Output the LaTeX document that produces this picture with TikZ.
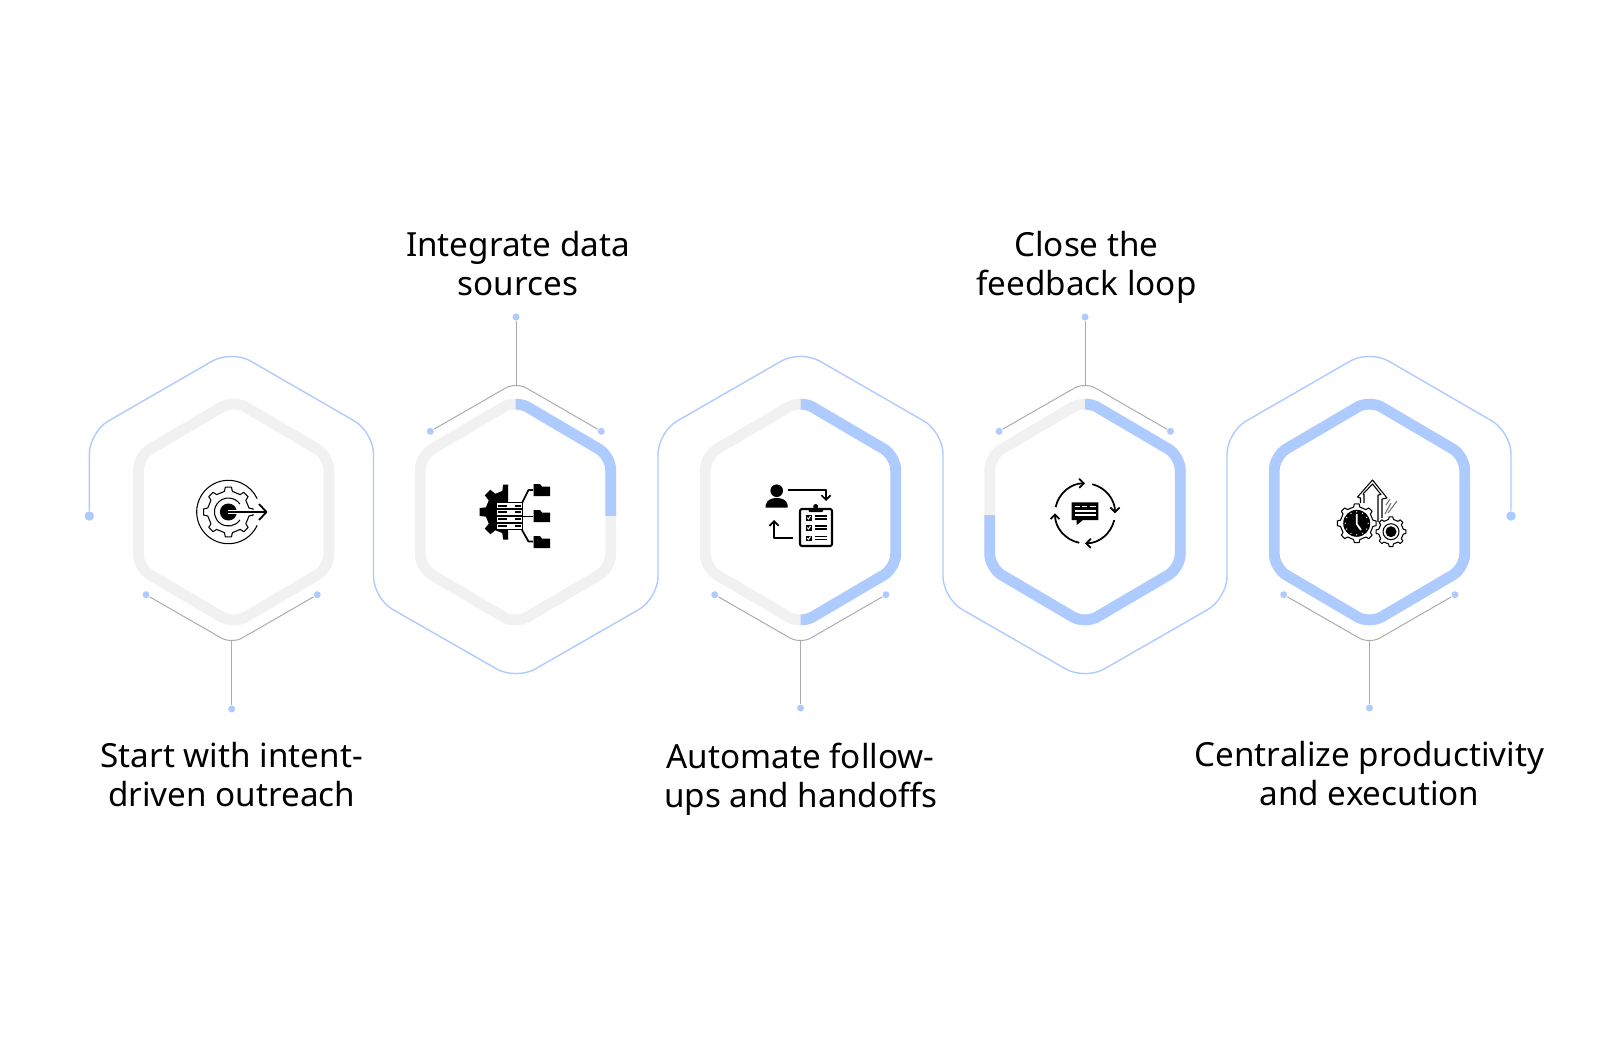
\documentclass[tikz,border=0pt]{standalone}
\usepackage{xcolor}
\usepackage{fontspec}
\setmainfont{Noto Sans}
\usetikzlibrary{arrows.meta, positioning}

\definecolor{hexblue}{HTML}{AECBFF}
\definecolor{hexgray}{HTML}{F1F1F1}
\definecolor{stemgray}{HTML}{ABABAB}

\begin{document}
\begin{tikzpicture}[
  x=0.01cm,
  y=-0.01cm,
  ring/.style={draw=hexgray, line width=3.1pt, rounded corners=0.14cm},
  ringblue/.style={draw=hexblue, line width=3.1pt, rounded corners=0.14cm},
  outline/.style={draw=hexblue, line width=0.4pt, rounded corners=0.22cm},
  stem/.style={draw=stemgray, line width=0.28pt},
  dot/.style={circle, fill=hexblue, inner sep=0pt, minimum size=0.07cm},
  bigdot/.style={circle, fill=hexblue, inner sep=0pt, minimum size=0.095cm},
  steptext/.style={align=center, inner sep=0pt, font=\fontsize{9.45}{11.2}\selectfont,
    execute at begin node=\strut, execute at end node=\strut},
  icon/.style={draw=black, line width=0.3pt, line join=round},
  iconthick/.style={draw=black, line width=0.5pt, line join=round},
  tips/.style={-{Straight Barb[length=1.3pt,width=2.6pt]}},
  pics/hexring/.style={code={
    \draw[#1] (0,-112) -- (95.25,-56) -- (95.25,56) -- (0,112) -- (-95.25,56) -- (-95.25,-56) -- cycle;
  }},
  pics/cog/.style args={#1/#2/#3}{code={
    \draw[#3] (-11:#1) \foreach \a in {0,45,...,315}{
      -- (\a-11:#1) -- (\a-7:#2) -- (\a+7:#2) -- (\a+11:#1)
    } -- cycle;
  }}
]
\useasboundingbox (0,0) rectangle (1600,1039);

% hexagon centres
\coordinate (c1) at (233.7,512);
\coordinate (c2) at (515.5,512);
\coordinate (c3) at (800.5,512);
\coordinate (c4) at (1085,512);
\coordinate (c5) at (1369.5,512);

% rings
\pic at (c1) {hexring=ring};
\pic at (c2) {hexring=ring};
\pic at (c3) {hexring=ring};
\pic at (c4) {hexring=ring};
\pic at (c5) {hexring=ringblue};

\begin{scope}
  \clip (c2) ++(0,-130) rectangle ++(130,133);
  \pic at (c2) {hexring=ringblue};
\end{scope}
\begin{scope}
  \clip (c3) ++(0,-130) rectangle ++(130,260);
  \pic at (c3) {hexring=ringblue};
\end{scope}
\begin{scope}
  \clip (c4) ++(0,-130) -- ++(130,0) -- ++(0,260) -- ++(-260,0) -- ++(0,-127) -- ++(130,0) -- cycle;
  \pic at (c4) {hexring=ringblue};
\end{scope}

% long blue line
\node[bigdot] (startdot) at (89.3,516) {};
\node[bigdot] (enddot) at (1511,516) {};
\draw[outline] (startdot) -- (89.3,432) -- (231.5,350) -- (373.5,432) -- (373.5,598.5)
  -- (516,680) -- (658,598.5) -- (658,432) -- (800.5,350) -- (943,432) -- (943,598.5)
  -- (1085,680) -- (1227,598.5) -- (1227,432) -- (1369.5,350) -- (1511,432) -- (enddot);

% stems
\node[dot] (dot1) at (231.7,709) {};
\node[dot] (dot1l) at (146,594.7) {};
\node[dot] (dot1r) at (317.3,594.7) {};
\coordinate (apex1) at (231.7,644);
\coordinate (tip1) at (231.7,640.5);
\node[dot] (dot2) at (516,317) {};
\node[dot] (dot2l) at (430.3,431.3) {};
\node[dot] (dot2r) at (601.3,431.3) {};
\coordinate (apex2) at (516,382);
\coordinate (tip2) at (516,385.5);
\node[dot] (dot3) at (800.5,708) {};
\node[dot] (dot3l) at (714.7,594.7) {};
\node[dot] (dot3r) at (886,594.7) {};
\coordinate (apex3) at (800.5,644);
\coordinate (tip3) at (800.5,640.5);
\node[dot] (dot4) at (1085,317) {};
\node[dot] (dot4l) at (999,431.3) {};
\node[dot] (dot4r) at (1170.5,431.3) {};
\coordinate (apex4) at (1085,382);
\coordinate (tip4) at (1085,385.5);
\node[dot] (dot5) at (1369.5,708) {};
\node[dot] (dot5l) at (1283.7,594.7) {};
\node[dot] (dot5r) at (1455,594.7) {};
\coordinate (apex5) at (1369.5,644);
\coordinate (tip5) at (1369.5,640.5);

\draw[stem, rounded corners=0.12cm] (dot1l) -- (apex1) -- (dot1r);
\draw[stem, rounded corners=0.12cm] (dot2l) -- (apex2) -- (dot2r);
\draw[stem, rounded corners=0.12cm] (dot3l) -- (apex3) -- (dot3r);
\draw[stem, rounded corners=0.12cm] (dot4l) -- (apex4) -- (dot4r);
\draw[stem, rounded corners=0.12cm] (dot5l) -- (apex5) -- (dot5r);
\draw[stem] (tip1) -- (dot1);
\draw[stem] (tip2) -- (dot2);
\draw[stem] (tip3) -- (dot3);
\draw[stem] (tip4) -- (dot4);
\draw[stem] (tip5) -- (dot5);

% texts
\node[steptext, below=0.28cm of dot1] (text1) {Start with intent-\\driven outreach};
\node[steptext, above=0.045cm of dot2, xshift=0.02cm] (text2) {Integrate data\\sources};
\node[steptext, below=0.3cm of dot3] (text3) {Automate follow-\\ups and handoffs};
\node[steptext, above=0.045cm of dot4, xshift=0.015cm] (text4) {Close the\\feedback loop};
\node[steptext, below=0.28cm of dot5] (text5) {Centralize productivity\\and execution};

% icon 1, target gear
\coordinate (i1) at (228.4,512);
\draw[icon] (i1) ++(25:31.7) arc[start angle=25, end angle=335, radius=31.7];
\pic at (i1) {cog=21/25/icon};
\draw[icon] (i1) ++(35:14) arc[start angle=35, end angle=325, radius=14];
\fill (i1) circle (8.5);
\draw[white, line width=1.2pt] (228,512) -- (262,512);
\draw[iconthick] (228,512) -- (266,512);
\draw[iconthick] (259,504) -- (266.5,512) -- (259,520);

% icon 2, server and folders
\coordinate (i2) at (507,512);
\begin{scope}
  \clip (470,480) rectangle (508,545);
  \pic at (i2) {cog=21/27/{fill=black}};
\end{scope}
\fill (495.7,502) rectangle (523,530);
\fill[white] (496.5,503.3) rectangle (522,508.3);
\fill[white] (496.5,509.8) rectangle (522,515);
\fill[white] (496.5,516.8) rectangle (522,522);
\fill[white] (496.5,523.6) rectangle (522,528.6);
\fill (497.5,504.8) rectangle (506.5,506.8);
\fill (497.5,511.4) rectangle (506.5,513.4);
\fill (497.5,518.4) rectangle (506.5,520.4);
\fill (497.5,525.1) rectangle (506.5,527.1);
\fill (515,504.8) rectangle (520.5,506.8);
\fill (515,511.4) rectangle (520.5,513.4);
\fill (515,518.4) rectangle (520.5,520.4);
\fill (515,525.1) rectangle (520.5,527.1);
\draw[iconthick] (522,503) -- (528.5,490) -- (533,490);
\draw[iconthick] (522,516.5) -- (533,516.5);
\draw[iconthick] (522,530) -- (528.5,541.5) -- (533,541.5);
\fill (533.5,484) -- (540,484) -- (542,486.5) -- (550,486.5) -- (550,496) -- (533.5,496) -- cycle;
\fill (533.5,510) -- (540,510) -- (542,512.5) -- (550,512.5) -- (550,522) -- (533.5,522) -- cycle;
\fill (533.5,536) -- (540,536) -- (542,538.5) -- (550,538.5) -- (550,548) -- (533.5,548) -- cycle;

% icon 3, person and clipboard
\fill (776.7,490.7) circle (6.3);
\fill (765.7,507.7) -- (765.7,505) .. controls (767,499.5) and (772,498) .. (776.7,498)
  .. controls (781.5,498) and (786.5,499.5) .. (787.7,505) -- (787.7,507.7) -- cycle;
\draw[iconthick, tips] (788.3,490) -- (826,490) -- (826,501);
\draw[iconthick, tips] (793.3,537.7) -- (774,537.7) -- (774,520);
\draw[iconthick, line width=0.6pt, rounded corners=0.02cm] (800,509) rectangle (832,546);
\fill[rounded corners=0.01cm] (808.5,508) rectangle (823,512);
\fill (815.7,506.5) circle (2.5);
\fill (806,515) rectangle (811.5,520.5);
\fill (806,525) rectangle (811.5,530.5);
\fill (806,535.5) rectangle (811.5,541);
\draw[white, line width=0.3pt] (807,517.5) -- (808.5,519) -- (810.5,516);
\draw[white, line width=0.3pt] (807,527.5) -- (808.5,529) -- (810.5,526);
\draw[white, line width=0.3pt] (807,538) -- (808.5,539.5) -- (810.5,536.5);
\draw[iconthick] (815,516) -- (827,516) (815,519) -- (827,519);
\draw[iconthick] (815,526) -- (827,526) (815,529) -- (827,529);
\draw[iconthick] (815,536.5) -- (827,536.5) (815,539.5) -- (827,539.5);

% icon 4, loop and chat
\coordinate (i4) at (1085,513.3);
\draw[iconthick, tips] (i4) ++(-168:30) arc[start angle=-168, end angle=-90, radius=30];
\draw[iconthick, tips] (i4) ++(-76:30) arc[start angle=-76, end angle=0, radius=30];
\draw[iconthick, tips] (i4) ++(13:30) arc[start angle=13, end angle=90, radius=30];
\draw[iconthick, tips] (i4) ++(101:30) arc[start angle=101, end angle=180, radius=30];
\fill (1071.7,502.3) -- (1098.3,502.3) -- (1098.3,520) -- (1083,520) -- (1076.7,525) -- (1076.7,520) -- (1071.7,520) -- cycle;
\draw[white, line width=0.4pt] (1074.5,506.5) -- (1079.5,506.5) (1082,506.5) -- (1087,506.5) (1089.5,506.5) -- (1095.5,506.5);
\draw[white, line width=0.4pt] (1074.5,510.8) -- (1095.5,510.8);
\draw[white, line width=0.4pt] (1074.5,515) -- (1095.5,515);

% icon 5, arrow and gears
\coordinate (i5a) at (1356.7,523.3);
\coordinate (i5b) at (1391,531.7);
\draw[icon] (1360.5,503) -- (1360.5,498) -- (1357.5,497) -- (1372.5,480) -- (1387,498) -- (1382,499) -- (1382,518);
\draw[icon] (1364,503) -- (1364,494.5) -- (1363,494) -- (1372.5,484) -- (1381,494.5) -- (1378,495) -- (1378,522);
\draw[icon, black!55] (1385,514) -- (1391,503) (1388,513) -- (1397,501) (1386,505) -- (1390,499);
\pic at (i5a) {cog=16.5/19.5/{icon, fill=white}};
\fill (i5a) circle (13.5);
\foreach \a in {0,30,...,330}{
  \fill[white] (i5a) ++(\a:11.5) circle (0.7);
}
\draw[white, line width=0.5pt] (1356.7,514) -- (1356.7,524) -- (1361,530);
\pic at (i5b) {cog=12.5/15/{icon, fill=white}};
\draw[icon] (i5b) circle (8);
\fill (i5b) circle (5.5);

\end{tikzpicture}
\end{document}
